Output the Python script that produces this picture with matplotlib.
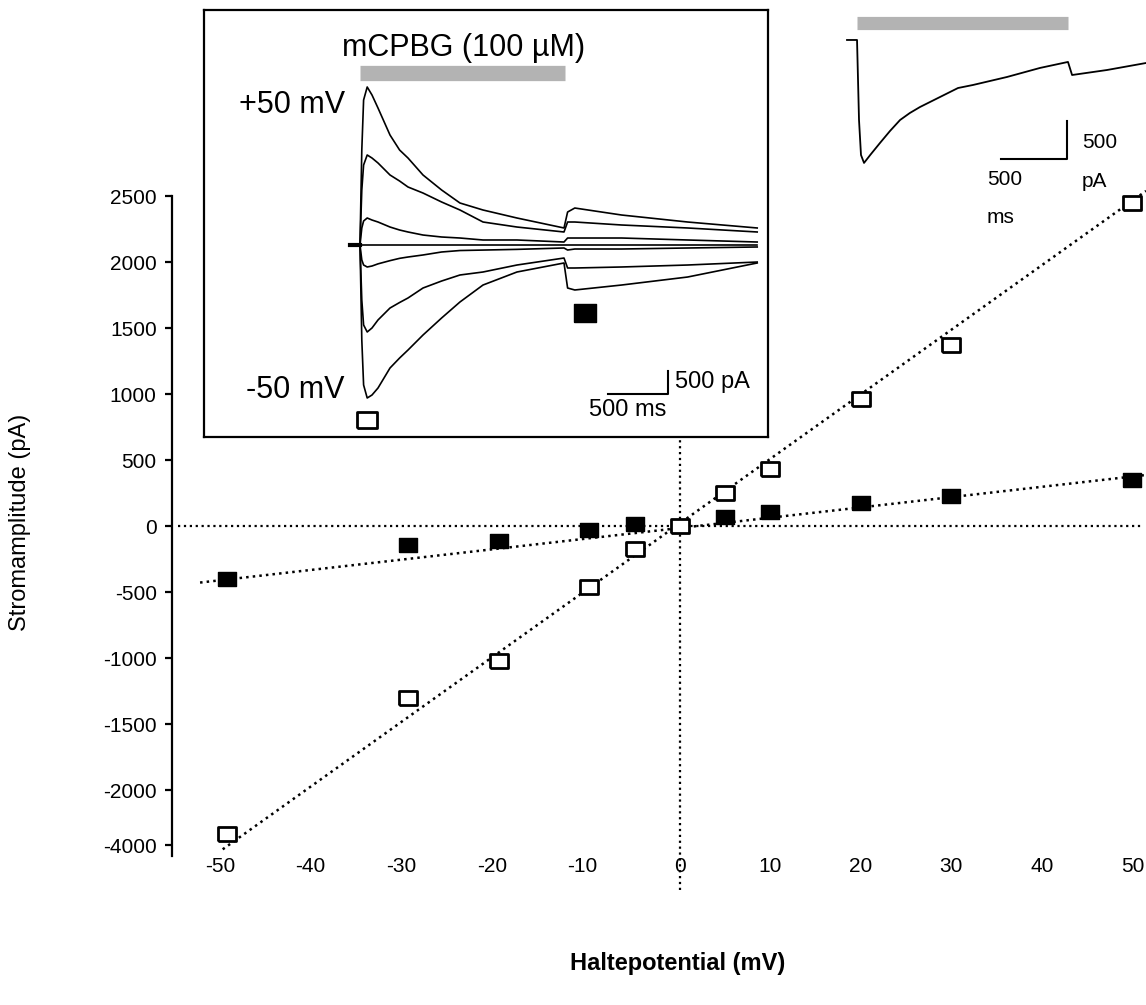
import numpy as np
import matplotlib
matplotlib.use('Agg')
from matplotlib import pyplot as plt
from matplotlib.transforms import ScaledTranslation

plt.rcParams['font.family'] = ['Liberation Sans', 'DejaVu Sans']

# I-V data (holding potential in mV, current in pA)
volt_open = [-50, -30, -20, -10, -5, 0, 5, 10, 20, 30, 50]
amp_open = [-2337, -1303, -1019, -464, -172, 0, 247, 434, 959, 1371, 2449]
volt_fill = [-50, -30, -20, -10, -5, 5, 10, 20, 30, 50]
amp_fill = [-404, -142, -112, -30, 15, 67, 105, 172, 225, 345]

# regression lines (slope pA/mV, offset pA)
fit_open = [48.9, 20]
fit_fill = [7.8, -15]

x_ticks = [-50, -40, -30, -20, -10, 0, 10, 20, 30, 40, 50]
y_ticks = [2500, 2000, 1500, 1000, 500, 0, -500, -1000, -1500, -2000, -2417]
y_ticklabels = ['2500', '2000', '1500', '1000', '500', '0', '-500', '-1000',
                '-1500', '-2000', '-4000']

# inset traces (time in ms, current in pA)
t_ms = [-80, 0, 15, 30, 60, 100, 150, 250, 330, 400, 525, 680, 833, 1025, 1308,
        1700, 1730, 1790, 2180, 2730, 3310]
traces = {
    '+50': [0, 0, 2065, 3152, 3435, 3261, 2978, 2391, 2065, 1891, 1522, 1196,
            913, 761, 587, 370, 717, 804, 652, 500, 370],
    '+30': [0, 0, 1196, 1739, 1957, 1891, 1783, 1522, 1391, 1261, 1130, 935,
            761, 500, 391, 283, 500, 500, 435, 370, 283],
    '+10': [0, 0, 370, 522, 587, 543, 500, 391, 326, 283, 217, 174, 152, 109,
            109, 65, 152, 152, 152, 109, 65],
    '0': [0, 0, 0, 0, 0, 0, 0, 0, 0, 0, 0, 0, 0, 0, 0, 0, 0, 0, 0, 0, 0],
    '-10': [0, 0, -326, -435, -478, -457, -410, -340, -290, -261, -217, -152,
            -120, -110, -95, -65, -109, -87, -87, -65, -43],
    '-30': [0, 0, -1196, -1739, -1891, -1804, -1630, -1370, -1250, -1152, -935,
            -783, -652, -587, -435, -283, -500, -500, -478, -435, -370],
    '-50': [0, 0, -2065, -3043, -3326, -3261, -3109, -2674, -2457, -2283, -1957,
            -1587, -1239, -870, -587, -391, -935, -978, -870, -696, -391],
}
appl_ms = [0, 1708]

# top right trace
tr_t = [-76, 0, 15, 30, 53, 100, 174, 250, 326, 400, 477, 629, 765, 879, 1136,
        1386, 1598, 1629, 1894, 2189]
tr_i = [0, 0, -1053, -1513, -1618, -1513, -1355, -1197, -1053, -961, -882,
        -750, -632, -592, -487, -368, -289, -461, -395, -303]
tr_appl = [0, 1600]

W, H = 1146, 1005
sq = [(-1.25, -1), (1.25, -1), (1.25, 1), (-1.25, 1), (-1.25, -1)]

fig = plt.figure(figsize=(W / 100, H / 100), dpi=100)

# main I-V plot
ax = fig.add_axes([172 / W, (H - 856) / H, 974 / W, 856 / H])
ax.set_zorder(1)
ax.patch.set_alpha(0)
ax.set_xlim(-56.1, 51.5)
ax.set_ylim(-2500, 3985)
for s in ['top', 'right', 'bottom']:
    ax.spines[s].set_visible(False)
ax.spines['left'].set_linewidth(1.6)
ax.spines['left'].set_bounds(-2500, 2500)

ax.set_xticks(x_ticks)
ax.set_xticklabels([str(v) for v in x_ticks])
ax.tick_params(axis='x', length=0, pad=1, labelsize=15)
shift = ScaledTranslation(-7 / 100, 0, fig.dpi_scale_trans)
for lab in ax.get_xticklabels():
    if lab.get_text().startswith('-'):
        lab.set_transform(lab.get_transform() + shift)
ax.set_yticks(y_ticks)
ax.set_yticklabels(y_ticklabels)
ax.tick_params(axis='y', direction='out', length=5, width=1.6, pad=6, labelsize=15)

# reference lines
ax.plot([-55.4, 51], [0, 0], ':', color='black', lw=1.6, clip_on=False)
ax.plot([0, 0], [-2758, 700], ':', color='black', lw=1.6, clip_on=False)

# regression lines
xo = np.array([-50.5, 51.5])
xf = np.array([-53, 52])
ax.plot(xo, np.polyval(fit_open, xo), ':', color='black', lw=1.8, clip_on=False)
ax.plot(xf, np.polyval(fit_fill, xf), ':', color='black', lw=1.8, clip_on=False)

ax.plot(volt_fill, amp_fill, ls='none', marker=sq, ms=13, mfc='black',
        mec='black', mew=1, clip_on=False, zorder=4)
ax.plot(volt_open, amp_open, ls='none', marker=sq, ms=13, mfc='white',
        mec='black', mew=2, clip_on=False, zorder=5)

ax.set_xlabel('Haltepotential (mV)', fontsize=17, fontweight='bold')
ax.xaxis.set_label_coords((678 - 172) / 974, (856 - 952) / 856)
ax.set_ylabel('Stromamplitude (pA)', fontsize=17)
ax.yaxis.set_label_coords((31 - 172) / 974, (856 - 522) / 856)

# inset with current traces
ins = fig.add_axes([204 / W, (H - 437) / H, 564 / W, 427 / H])
ins.set_zorder(3)
ins.set_facecolor('white')
ins.set_xlim(-1300, 3400)
ins.set_ylim(-4174, 5109)
ins.set_xticks([])
ins.set_yticks([])
for s in ins.spines.values():
    s.set_linewidth(1.6)
for k, v in traces.items():
    ins.plot(t_ms, v, color='black', lw=1.2)
ins.plot([-80, 0], [0, 0], color='black', lw=3)
ins.plot(appl_ms, [3750, 3750], color='#b3b3b3', lw=11, solid_capstyle='butt')
ins.text(867, 4283, 'mCPBG (100 µM)', fontsize=22, ha='center', va='center')
ins.text(-125, 3043, '+50 mV', fontsize=22, ha='right', va='center')
ins.text(-125, -3152, '-50 mV', fontsize=22, ha='right', va='center')
ins.plot([58], [-3804], ls='none', marker=sq, ms=15, mfc='white', mec='black', mew=2)
ins.plot([1875], [-1478], ls='none', marker=sq, ms=16, mfc='black', mec='black')
ins.plot([2067, 2567, 2567], [-3239, -3239, -2739], color='black', lw=1.5)
ins.text(2625, -2978, '500 pA', fontsize=17, ha='left', va='center')
ins.text(2233, -3587, '500 ms', fontsize=17, ha='center', va='center')

# top right trace
tr = fig.add_axes([840 / W, (H - 240) / H, 306 / W, 240 / H])
tr.set_zorder(2)
tr.axis('off')
tr.set_xlim(-129, 2189)
tr.set_ylim(-2632, 526)
tr.plot(tr_t, tr_i, color='black', lw=1.3)
tr.plot(tr_appl, [217, 217], color='#b3b3b3', lw=9.5, solid_capstyle='butt')
tr.plot([1091, 1591, 1591], [-1566, -1566, -1066], color='black', lw=1.5)
tr.text(1705, -1355, '500', fontsize=15, ha='left', va='center')
tr.text(1705, -1868, 'pA', fontsize=15, ha='left', va='center')
tr.text(985, -1842, '500', fontsize=15, ha='left', va='center')
tr.text(985, -2342, 'ms', fontsize=15, ha='left', va='center')

plt.savefig('out.png', dpi=100)
